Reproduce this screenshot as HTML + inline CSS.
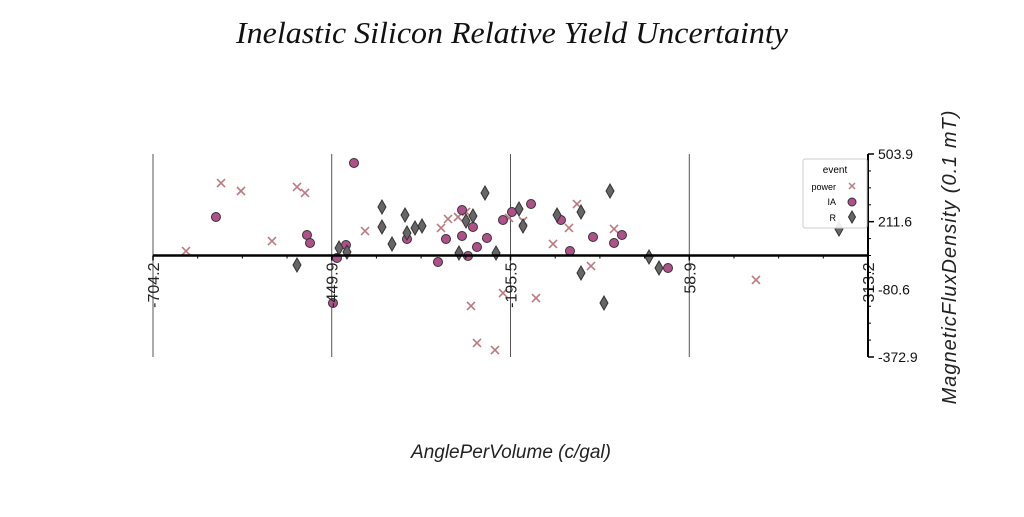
<!DOCTYPE html>
<html><head><meta charset="utf-8"><style>
body{margin:0;background:#fff;}
svg text{font-family:"Liberation Sans",sans-serif;}
svg text.serif{font-family:"Liberation Serif",serif;}
</style></head><body>
<svg id="chart" width="1024" height="512" xmlns="http://www.w3.org/2000/svg">
<text class="serif" x="512" y="43" text-anchor="middle" font-style="italic" font-size="31" fill="#111" textLength="552" lengthAdjust="spacingAndGlyphs">Inelastic Silicon Relative Yield Uncertainty</text>
<text x="511" y="458" text-anchor="middle" font-style="italic" font-size="19" fill="#222">AnglePerVolume (c/gal)</text>
<text transform="translate(956,257) rotate(-90)" text-anchor="middle" font-style="italic" font-size="20" letter-spacing="1" fill="#222">MagneticFluxDensity (0.1 mT)</text>
<g id="grid"></g><g id="marks"></g><g id="axes"></g>
<g>
<rect x="803" y="159" width="64" height="69" fill="#fff" fill-opacity="0.9" stroke="#ccc" rx="2"/>
<text x="835" y="173" text-anchor="middle" font-size="10">event</text>
<text x="836" y="190" text-anchor="end" font-size="9">power</text>
<text x="836" y="205" text-anchor="end" font-size="9">IA</text>
<text x="836" y="221" text-anchor="end" font-size="9">R</text>
<path d="M849,183 l6,6 M855,183 l-6,6" stroke="#c07880" stroke-width="1.5"/>
<circle cx="852" cy="202" r="4" fill="#b0508a" stroke="#333"/>
<path d="M852,211 l3.5,6 l-3.5,6 l-3.5,-6z" fill="#666" stroke="#333"/>
</g>
</svg>
<script>
const xTicks=[-704.2,-449.9,-195.5,58.9,313.2];
const yTicks=[503.9,211.6,-80.6,-372.9];
const powerX=[-657.2,-607.4,-579.0,-499.3,-487.9,-534.9,-402.5,-294.4,-284.4,-270.2,-258.8,-206.2,-251.7,-243.2,-217.6,-197.6,-177.7,-135.0,-100.9,-112.3,-81.0,-48.2,-159.2,153.8];
const powerY=[84.9,378.6,344.1,361.4,335.5,128.1,171.3,184.3,223.2,231.8,253.4,-96.5,-152.6,-312.4,-342.7,227.5,214.5,115.2,287.9,184.3,20.1,180.0,-118.1,-40.3];
const iaX=[-614.6,-418.2,-485.1,-480.8,-429.6,-442.4,-448.1,-342.8,-298.7,-287.3,-264.5,-264.5,-248.9,-256.0,-243.2,-229.0,-206.2,-193.4,-166.3,-123.7,-110.9,-78.1,-48.2,-36.9,28.6];
const iaY=[231.8,465.0,154.0,119.5,110.9,54.7,-139.7,136.8,37.4,136.8,262.0,149.7,188.6,63.3,102.2,141.1,218.8,253.4,287.9,218.8,84.9,145.4,119.5,154.0,11.5];
const rX=[-499.3,-439.5,-428.2,-378.4,-378.4,-364.1,-345.6,-342.8,-331.4,-321.4,-268.8,-258.8,-248.9,-231.8,-216.1,-183.4,-177.7,-129.3,-95.2,-53.9,-95.2,-62.5,1.6,15.8,271.9];
const rY=[24.5,97.9,80.6,275.0,188.6,115.2,240.4,162.7,184.3,192.9,76.3,214.5,236.1,335.5,76.3,266.3,192.9,240.4,253.4,344.1,-10.1,-139.7,59.0,11.5,180.0];
const X0=153,X1=868,Y0=154,Y1=357;
const xMin=-704.2,xMax=313.2,yMin=-372.9,yMax=503.9;
const sx=v=>X0+(v-xMin)/(xMax-xMin)*(X1-X0);
const sy=v=>Y1-(v-yMin)/(yMax-yMin)*(Y1-Y0);
const NS="http://www.w3.org/2000/svg";
function mk(tag,attrs,parent){const e=document.createElementNS(NS,tag);for(const k in attrs)e.setAttribute(k,attrs[k]);parent.appendChild(e);return e;}
const grid=document.getElementById('grid'),marks=document.getElementById('marks'),axes=document.getElementById('axes');
const midY=(Y0+Y1)/2;
xTicks.forEach(t=>{const x=sx(t);
 const g=mk('line',{x1:x,x2:x,y1:Y0,y2:Y1,stroke:'#555','stroke-width':1},grid);
 
 
 mk('line',{x1:x,x2:x,y1:midY,y2:midY+5,stroke:'#000','stroke-width':1.5},axes);
 const tx=mk('text',{transform:`translate(${x+6},${midY+7}) rotate(-90)`,'text-anchor':'end','font-size':16,fill:'#222'},axes);
 tx.textContent=t.toFixed(1);
 
 
});
for(let i=0;i<xTicks.length-1;i++){for(let k=1;k<4;k++){const x=sx(xTicks[i])+(sx(xTicks[i+1])-sx(xTicks[i]))*k/4;mk('line',{x1:x,x2:x,y1:midY,y2:midY+3,stroke:'#000'},axes);}}
const xa=mk('line',{x1:X0,x2:X1,y1:midY,y2:midY,stroke:'#000','stroke-width':2.5},axes);


const ya=mk('line',{x1:X1,x2:X1,y1:Y0,y2:Y1,stroke:'#000','stroke-width':2},axes);


yTicks.forEach(t=>{const y=sy(t);
 mk('line',{x1:X1,x2:X1+6,y1:y,y2:y,stroke:'#000','stroke-width':1.5},axes);
 const tx=mk('text',{x:X1+10,y:y+5,'font-size':14,fill:'#111'},axes);
 tx.textContent=t.toFixed(1);
 
 
});
for(let i=0;i<yTicks.length-1;i++){for(let k=1;k<4;k++){const y=sy(yTicks[i])+(sy(yTicks[i+1])-sy(yTicks[i]))*k/4;mk('line',{x1:X1,x2:X1+3,y1:y,y2:y,stroke:'#000'},axes);}}
powerX.forEach((v,i)=>{const x=sx(v),y=sy(powerY[i]);
 const p=mk('path',{d:`M${x-4},${y-4}L${x+4},${y+4}M${x+4},${y-4}L${x-4},${y+4}`,stroke:'#c07880','stroke-width':1.6},marks);
 
 
});
iaX.forEach((v,i)=>{const x=sx(v),y=sy(iaY[i]);
 const c=mk('circle',{cx:x,cy:y,r:4.5,fill:'#b0508a',stroke:'#333','stroke-width':1},marks);
 
 
});
rX.forEach((v,i)=>{const x=sx(v),y=sy(rY[i]);
 const p=mk('path',{d:`M${x},${y-7}L${x+4},${y}L${x},${y+7}L${x-4},${y}Z`,fill:'#666',stroke:'#333','stroke-width':1},marks);
 
 
});
</script>
</body></html>
